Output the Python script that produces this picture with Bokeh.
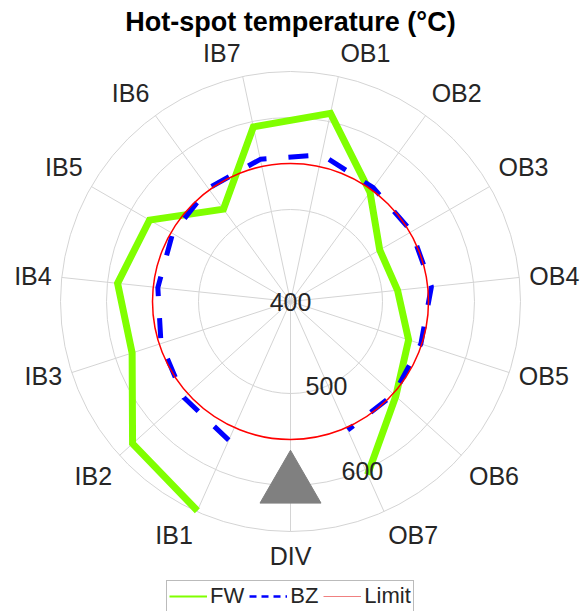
import numpy as np
from bokeh.plotting import figure
from bokeh.models import Range1d, Legend, LegendItem, Label, ColumnDataSource
from bokeh.core.properties import value, field
from bokeh.embed import file_html
from bokeh.resources import INLINE

# ---------------- data ----------------
categories = ["DIV", "IB1", "IB2", "IB3", "IB4", "IB5", "IB6", "IB7",
              "OB1", "OB2", "OB3", "OB4", "OB5", "OB6", "OB7"]
series_categories = categories[1:]
fw = [649, 631, 581, 589, 577, 524, 594, 609, 547, 512, 517, 535, 554, 606]
bz = [565, 556, 548, 545, 548, 552, 558, 563, 553, 552, 554, 549, 551, 553]
limit = 550
div_categories = ["DIV"]
div_marker = [600]
r_ticks = [400, 500, 600]
r_tick_labels = ["400", "500", "600"]
r_min, r_max = 400, 650
title_text = "Hot-spot temperature (\u00b0C)"

# ---------------- layout ----------------
W, H = 584, 611
CX, CY = 290, 301      # polar centre in canvas px (from top-left)
K = 0.92               # px per degree C
STEP = 24.0            # degrees between categories
START = -90.0          # DIV at bottom, clockwise
LABEL_PAD = 11         # label distance beyond outer ring (units)
RLABEL_ANGLE = -67.0
FONT = "Liberation Sans"
TXT = "#262626"
GRID = "#d4d4d4"

ang = {c: np.deg2rad(START - STEP * i) for i, c in enumerate(categories)}


def polar(cats, vals):
    t = np.array([ang[c] for c in cats])
    r = np.array(vals, dtype=float) - r_min
    return r * np.cos(t), r * np.sin(t)


p = figure(width=W, height=H,
           x_range=Range1d(-CX / K, (W - CX) / K),
           y_range=Range1d(-(H - CY) / K, CY / K),
           x_axis_type=None, y_axis_type=None,
           toolbar_location=None, output_backend="svg",
           min_border=0, outline_line_color=None,
           background_fill_color="white", border_fill_color="white")

# grid: spokes and rings
tt = np.array([ang[c] for c in categories])
rr = r_max - r_min
p.segment(x0=np.zeros(len(tt)), y0=np.zeros(len(tt)),
          x1=rr * np.cos(tt), y1=rr * np.sin(tt),
          line_color=GRID, line_width=1)
ring_vals = [v for v in r_ticks if v > r_min] + [r_max]
p.circle(x=[0] * len(ring_vals), y=[0] * len(ring_vals),
         radius=[v - r_min for v in ring_vals],
         fill_color=None, line_color=GRID, line_width=1)

# series
fx, fy = polar(series_categories, fw)
p.line(fx, fy, line_color="#80ff00", line_width=7, line_join="miter")
bx, by = polar(series_categories, bz)
p.line(bx, by, line_color="#0000ff", line_width=5, line_dash="20 22")
p.circle(x=[0], y=[0], radius=[limit - r_min], fill_color=None,
         line_color="#ff0000", line_width=1.5)

# divertor marker
dx, dy = polar(div_categories, div_marker)
p.scatter(dx, dy, marker="triangle", size=61, fill_color="#808080",
          line_color="#808080")

# category labels
lx, ly, al, bl = [], [], [], []
for c in categories:
    t = ang[c]
    cs, sn = np.cos(t), np.sin(t)
    lx.append((rr + LABEL_PAD) * cs)
    ly.append((rr + LABEL_PAD) * sn)
    al.append("left" if cs > 0.1 else ("right" if cs < -0.1 else "center"))
    bl.append("bottom" if sn > 0.4 else ("top" if sn < -0.4 else "middle"))
src = ColumnDataSource(dict(x=lx, y=ly, text=categories, align=al, base=bl))
p.text(x="x", y="y", text="text", source=src,
       text_align=field("align"), text_baseline=field("base"),
       text_font=value(FONT), text_font_size=value("25px"),
       text_color=TXT)

# radial tick labels
ra = np.deg2rad(RLABEL_ANGLE)
rx = [(v - r_min) * np.cos(ra) for v in r_ticks]
ry = [(v - r_min) * np.sin(ra) for v in r_ticks]
p.text(x=rx, y=ry, text=r_tick_labels, text_align="center",
       text_baseline="middle", text_font=value(FONT),
       text_font_size=value("25px"), text_color=TXT)

# title
p.add_layout(Label(x=CX, y=H - 21, x_units="screen", y_units="screen",
                   text=title_text, text_align="center",
                   text_baseline="alphabetic", text_font=FONT,
                   text_font_size="27px", text_font_style="bold",
                   text_color="black"))

# legend (thin sample lines)
nan = [np.nan]
lg1 = p.line(nan, nan, line_color="#80ff00", line_width=2)
lg2 = p.line(nan, nan, line_color="#0000ff", line_width=2.5, line_dash="7 5")
lg3 = p.line(nan, nan, line_color="#f08080", line_width=1)
legend = Legend(items=[LegendItem(label="FW", renderers=[lg1]),
                       LegendItem(label="BZ", renderers=[lg2]),
                       LegendItem(label="Limit", renderers=[lg3])],
                orientation="horizontal", location=(166, -1),
                padding=2, spacing=5, label_standoff=3,
                glyph_width=38, glyph_height=20, margin=0,
                label_text_font=FONT, label_text_font_size="22px",
                label_text_color=TXT,
                border_line_color="#777777", border_line_width=1,
                background_fill_color="white", background_fill_alpha=1)
p.add_layout(legend, "center")

open("out.html", "w").write(file_html(p, INLINE))
